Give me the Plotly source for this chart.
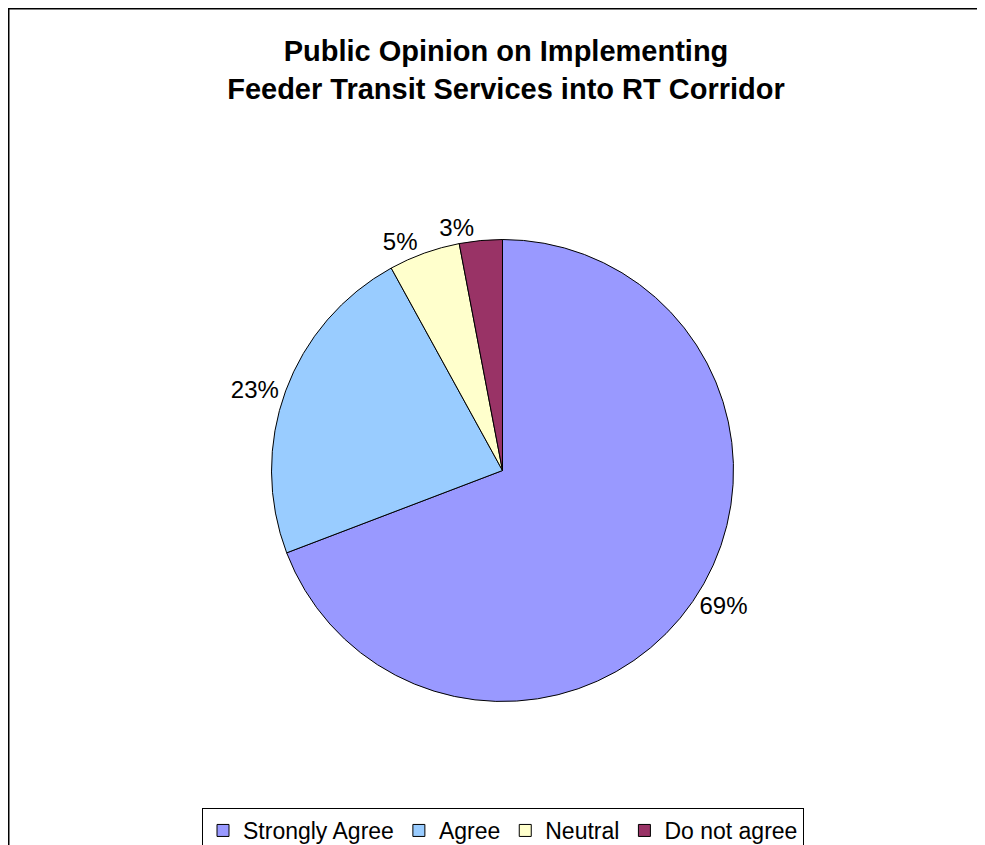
import plotly.graph_objects as go

W, H = 985, 845

categories = ["Strongly Agree", "Agree", "Neutral", "Do not agree"]
shares = [69.2, 22.8, 5.0, 3.0]
colors = ["#9999FF", "#99CCFF", "#FFFFCC", "#993366"]

FONT = "Liberation Sans, Arial, Helvetica, sans-serif"

# the page has an 8px body margin, so figure px = page px - 8
def px_x(p):
    return p / W

def px_y(p):
    return 1 - p / H

cx, cy, r = 494.5, 462.5, 231
domain = dict(x=[px_x(cx - r), px_x(cx + r)], y=[px_y(cy + r), px_y(cy - r)])

# main pie: all slices, labels for the three larger ones
fig = go.Figure(go.Pie(
    labels=categories,
    values=shares,
    sort=False,
    direction="clockwise",
    rotation=0,
    marker=dict(colors=colors, line=dict(color="black", width=1)),
    textposition=["outside", "outside", "outside", "none"],
    texttemplate="%{percent:.0%}",
    textfont=dict(family=FONT, size=24, color="black"),
    hoverinfo="label+percent",
    domain=domain,
    automargin=False,
    showlegend=True,
))

# transparent overlay carrying only the smallest slice's label (avoids a leader line)
fig.add_trace(go.Pie(
    labels=categories,
    values=shares,
    sort=False,
    direction="clockwise",
    rotation=0,
    marker=dict(colors=["rgba(0,0,0,0)"] * len(categories), line=dict(width=0)),
    textposition=["none", "none", "none", "outside"],
    texttemplate="%{percent:.0%}",
    textfont=dict(family=FONT, size=24, color="black"),
    hoverinfo="skip",
    domain=domain,
    automargin=False,
    showlegend=False,
))

fig.update_layout(
    width=W, height=H,
    margin=dict(l=0, r=0, t=0, b=0, autoexpand=False),
    paper_bgcolor="white",
    plot_bgcolor="white",
    font=dict(family=FONT, color="black"),
    title=dict(
        text="Public Opinion on Implementing<br>Feeder Transit Services into RT Corridor",
        font=dict(family=FONT, size=29, color="black", weight="bold"),
        x=px_x(498), xanchor="center",
        y=px_y(53), yanchor="top",
    ),
    legend=dict(
        orientation="h",
        x=px_x(495), xanchor="center",
        y=px_y(800), yanchor="top",
        bordercolor="black", borderwidth=1,
        bgcolor="white",
        font=dict(family=FONT, size=23, color="black"),
        itemwidth=30,
        traceorder="normal",
    ),
    shapes=[
        dict(type="line", xref="paper", yref="paper",
             x0=0, x1=1.0, y0=px_y(0.5), y1=px_y(0.5),
             line=dict(color="black", width=2)),
        dict(type="line", xref="paper", yref="paper",
             x0=px_x(0.5), x1=px_x(0.5), y0=px_y(0), y1=0,
             line=dict(color="black", width=2)),
    ],
)

fig.write_html("out.html")
